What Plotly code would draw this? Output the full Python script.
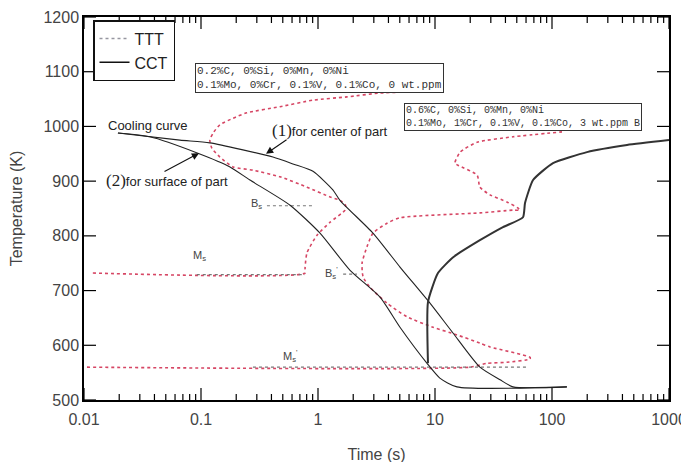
import math
import plotly.graph_objects as go

# ---------------- data ----------------
# Cooling curve (1) for center of part
cool1_t = [0.0195, 0.066, 0.119, 0.412, 0.62, 0.906, 1.34, 1.54, 2.95, 5.02, 9.06, 14.3, 24.2, 36, 46.4, 134]
cool1_T = [988, 975, 970, 944, 931, 918, 884, 865, 805, 743, 677, 622, 560, 537, 524, 524]

# Cooling curve (2) for surface of part
cool2_t = [0.0195, 0.0366, 0.094, 0.177, 0.262, 0.577, 1.04, 1.88, 3.39, 5.02, 8.55, 11.0, 15.4, 134]
cool2_T = [988, 981, 951, 926, 902, 856, 805, 737, 688, 633, 567, 540, 524, 524]

# TTT curve, 0.2%C steel
tttA_t = [0.0119, 0.775, 0.775, 0.805, 0.98, 1.27, 1.70, 1.72, 1.54, 1.27, 0.805, 0.473, 0.278,
          0.188, 0.145, 0.124, 0.119, 0.127, 0.145, 0.188, 0.247, 0.473, 0.906, 1.77, 3.39, 5.9]
tttA_T = [732, 732, 741, 769, 801, 825, 847, 856, 865, 871, 889, 908, 920,
          926, 944, 960, 975, 988, 1003, 1015, 1025, 1036, 1048, 1054, 1061, 1063]

# TTT curve, 0.6%C steel
tttB_t = [0.0106, 19.9, 27.8, 41.2, 64.9, 64.9, 29.5, 24.2, 15.4, 9.6, 5.77, 3.89, 2.78, 2.43,
          2.38, 2.62, 2.95, 3.89, 5.02, 24.2, 46.4, 53.2, 51, 41.2, 29.5, 24.2, 22.9, 15.7,
          14.8, 16.4, 22.9, 46.4, 121.7]
tttB_T = [560, 560, 567, 569, 575, 578, 597, 604, 619, 633, 652, 677, 706, 725,
          750, 780, 805, 823, 833, 842, 847, 847, 851, 862, 875, 889, 911, 929,
          933, 953, 971, 981, 990]

# CCT curve
cct_t = [8.71, 8.71, 10.6, 14.3, 24.2, 38.1, 56.5, 58.8, 68.9, 102, 199, 438, 1000]
cct_T = [567, 679, 732, 761, 792, 816, 834, 860, 902, 933, 953, 966, 975]

# reference (start temperature) lines
bs_t, bs_T = [0.366, 0.89], [855, 855]
bs2_t, bs2_T = [1.64, 2.15], [730, 730]
ms_t, ms_T = [0.092, 0.775], [729, 729]
ms2_t, ms2_T = [0.278, 62.2], [560, 560]

# axis ticks
x_range_log = [-2, 3]
y_range = [500, 1200]
y_ticks = [500, 600, 700, 800, 900, 1000, 1100, 1200]
x_major = [0.01, 0.1, 1, 10, 100, 1000]
x_major_text = ["0.01", "0.1", "1", "10", "100", "1000"]
x_minor = [m * 10.0 ** k for k in range(-2, 3) for m in range(2, 10)]

# ---------------- styles ----------------
RED = "rgb(214,70,100)"
GRAY = "rgb(120,120,120)"
FONT = "Liberation Sans, Arial, sans-serif"
W, H = 689, 462
ML, MR, MT, MB = 76, 28, 9, 70   # the page body has an 8px default margin; compensated here
PW, PH = W - ML - MR, H - MT - MB

fig = go.Figure()

for xs, ys in [(tttA_t, tttA_T), (tttB_t, tttB_T)]:
    fig.add_trace(go.Scatter(x=xs, y=ys, mode="lines", showlegend=False,
                             line=dict(color=RED, width=1.6, dash="dot", shape="spline", smoothing=0.6)))

for xs, ys in [(bs_t, bs_T), (bs2_t, bs2_T), (ms_t, ms_T), (ms2_t, ms2_T)]:
    fig.add_trace(go.Scatter(x=xs, y=ys, mode="lines", showlegend=False,
                             line=dict(color=GRAY, width=1.2, dash="dot")))

for xs, ys in [(cool1_t, cool1_T), (cool2_t, cool2_T)]:
    fig.add_trace(go.Scatter(x=xs, y=ys, mode="lines", showlegend=False,
                             line=dict(color="#222", width=1.1, shape="spline", smoothing=0.6)))

fig.add_trace(go.Scatter(x=cct_t, y=cct_T, mode="lines", showlegend=False,
                         line=dict(color="#333", width=2, shape="spline", smoothing=0.5)))

# legend entries
fig.add_trace(go.Scatter(x=[None], y=[None], mode="lines", name="TTT",
                         line=dict(color="rgb(150,150,160)", width=1.6, dash="dot")))
fig.add_trace(go.Scatter(x=[None], y=[None], mode="lines", name="CCT",
                         line=dict(color="#111", width=1.6)))

# ---- tick marks (inside, on all four sides), drawn as one line trace ----
ky = (y_range[1] - y_range[0]) / PH            # data units per pixel (y)
kx = (x_range_log[1] - x_range_log[0]) / PW    # decades per pixel (x)
tx, ty = [], []
for vals, ln in [(x_major, 12), (x_minor, 6)]:
    for v in vals:
        tx += [v, v, None, v, v, None]
        ty += [y_range[0], y_range[0] + ln * ky, None, y_range[1], y_range[1] - ln * ky, None]
xl, xr = 10 ** x_range_log[0], 10 ** x_range_log[1]
for v in y_ticks:
    tx += [xl, 10 ** (x_range_log[0] + 12 * kx), None, xr, 10 ** (x_range_log[1] - 12 * kx), None]
    ty += [v, v, None, v, v, None]
fig.add_trace(go.Scatter(x=tx, y=ty, mode="lines", showlegend=False, hoverinfo="skip",
                         cliponaxis=False, connectgaps=False,
                         line=dict(color="black", width=1.2)))

ann = []
def txt(x, y, s, size=13, xanchor="center", yanchor="middle", family=FONT, color="#222", **kw):
    ann.append(dict(x=x, y=y, text=s, showarrow=False, xanchor=xanchor, yanchor=yanchor,
                    font=dict(family=family, size=size, color=color), **kw))

SERIF = "font-family:Liberation Serif, Times New Roman, serif; font-size:17px"
txt(-1.453, 1002, "Cooling curve", size=13)
txt(-0.410, 993, f"<span style='{SERIF}'>(1)</span>for center of part", size=13, xanchor="left")
txt(-1.829, 902, f"<span style='{SERIF}'>(2)</span>for surface of part", size=13, xanchor="left")
txt(-0.462, 858, "B<sub>s</sub>", size=11, xanchor="right", color="#444")
txt(0.188, 733, "B<sub>s</sub><sup>'</sup>", size=11, xanchor="right", color="#444")
txt(-1.009, 764, "M<sub>s</sub>", size=11, color="#444")
txt(-0.239, 581, "M<sub>s</sub><sup>'</sup>", size=11, color="#444")

MONO = "Liberation Mono, Courier New, monospace"
txt(-1.051, 1116, "0.2%C, 0%Si, 0%Mn, 0%Ni<br>0.1%Mo, 0%Cr, 0.1%V, 0.1%Co, 0 wt.ppm",
    size=11, xanchor="left", yanchor="top", family=MONO, color="#333", align="left",
    bordercolor="#333", borderwidth=1, borderpad=1, bgcolor="white")
txt(0.735, 1043, "0.6%C, 0%Si, 0%Mn, 0%Ni<br>0.1%Mo, 1%Cr, 0.1%V, 0.1%Co, 3 wt.ppm B",
    size=10, xanchor="left", yanchor="top", family=MONO, color="#333", align="left",
    bordercolor="#333", borderwidth=1, borderpad=1, bgcolor="white")

# arrows
ann.append(dict(x=-0.444, y=950, ax=22, ay=-15, text="", showarrow=True, arrowhead=2,
                arrowsize=1.3, arrowwidth=1.1, arrowcolor="#111"))
ann.append(dict(x=-1.017, y=951, ax=-36, ay=19, text="", showarrow=True, arrowhead=2,
                arrowsize=1.3, arrowwidth=1.1, arrowcolor="#111"))

fig.update_layout(
    template="none",
    width=W, height=H,
    margin=dict(l=ML, r=MR, t=MT, b=MB, autoexpand=False),
    paper_bgcolor="white", plot_bgcolor="white",
    font=dict(family=FONT, size=16, color="#444"),
    annotations=ann,
    showlegend=True,
    legend=dict(x=0.0154, y=0.992, xanchor="left", yanchor="top",
                bordercolor="#111", borderwidth=1.5, bgcolor="white",
                font=dict(family=FONT, size=16, color="#222"),
                tracegroupgap=0, itemwidth=30),
    xaxis=dict(type="log", range=x_range_log, tickmode="array",
               tickvals=x_major, ticktext=x_major_text,
               showgrid=False, zeroline=False, automargin=False,
               showline=True, linecolor="black", linewidth=1.5, mirror=True,
               ticks="outside", ticklen=4, tickcolor="rgba(0,0,0,0)",
               title=dict(text="Time (s)", standoff=22, font=dict(size=16, color="#444")),
               tickfont=dict(size=16, color="#444")),
    yaxis=dict(range=y_range, tickmode="array", tickvals=y_ticks,
               showgrid=False, zeroline=False, automargin=False,
               showline=True, linecolor="black", linewidth=1.5, mirror=True,
               ticks="",
               title=dict(text="Temperature (K)", standoff=21, font=dict(size=16, color="#444")),
               tickfont=dict(size=16, color="#444")),
)

fig.write_html("out.html")
